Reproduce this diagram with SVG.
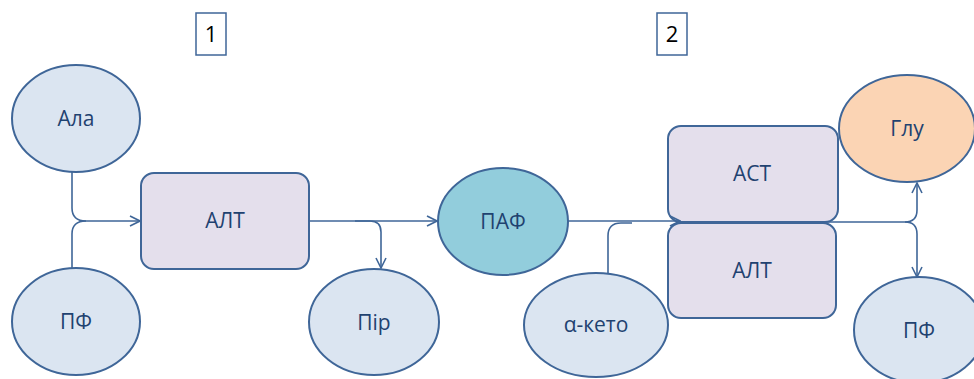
<svg xmlns="http://www.w3.org/2000/svg" width="974" height="379" viewBox="0 0 974 379">
<defs>
<marker id="arr" viewBox="0 0 12 12" refX="11" refY="6" markerWidth="12" markerHeight="12" markerUnits="userSpaceOnUse" orient="auto">
<path d="M1,1 L11,6 L1,11" fill="none" stroke="#3F6698" stroke-width="1.6"/>
</marker>
</defs>
<style>
.el{fill:#DBE5F1;stroke:#3F6698;stroke-width:2}
.bx{fill:#E4DFEC;stroke:#3F6698;stroke-width:2}
.t{font-family:"Open Sans","Liberation Sans",sans-serif;font-size:21px;fill:#1F4270;text-anchor:middle}
.n{font-family:"Open Sans","Liberation Sans",sans-serif;font-size:22px;fill:#000;text-anchor:middle}
.c{fill:none;stroke:#3F6698;stroke-width:1.6}
.lbl{fill:#fff;stroke:#3F6698;stroke-width:1.5}
</style>
<g id="label1"><rect class="lbl" x="196" y="13" width="30" height="42"/><text class="n" x="211" y="42">1</text></g>
<g id="label2"><rect class="lbl" x="657" y="13" width="30" height="42"/><text class="n" x="672" y="42">2</text></g>
<g id="ala"><ellipse class="el" cx="76" cy="118.5" rx="64" ry="53.5"/><text class="t" x="76" y="126">Ала</text></g>
<g id="pf1"><ellipse class="el" cx="76" cy="321.5" rx="64" ry="53.5"/><text class="t" x="76" y="329">ПФ</text></g>
<g id="alt1"><rect class="bx" x="141" y="173" width="168" height="96" rx="13"/><text class="t" x="225" y="228">АЛТ</text></g>
<g id="pir"><ellipse class="el" cx="374" cy="322" rx="65" ry="53"/><text class="t" x="374" y="330">Пір</text></g>
<g id="paf"><ellipse cx="503" cy="221.5" rx="65" ry="53.5" fill="#92CDDC" stroke="#3F6698" stroke-width="2"/><text class="t" x="503" y="229">ПАФ</text></g>
<g id="aketo"><ellipse class="el" cx="596" cy="325" rx="72" ry="52"/><text class="t" x="596" y="332">α-кето</text></g>
<g id="ast"><rect class="bx" x="668" y="126" width="170" height="96" rx="13"/><text class="t" x="752" y="181">АСТ</text></g>
<g id="alt2"><rect class="bx" x="668" y="223" width="168" height="95" rx="13"/><text class="t" x="752" y="278">АЛТ</text></g>
<g id="glu"><ellipse cx="907" cy="128.5" rx="68" ry="53.5" fill="#FBD4B4" stroke="#3F6698" stroke-width="2"/><text class="t" x="907" y="136">Глу</text></g>
<g id="pf2"><ellipse class="el" cx="919" cy="330" rx="65" ry="53"/><text class="t" x="919" y="338">ПФ</text></g>
<g id="connectors">
<path class="c" d="M72,172 V208 Q72,221 86,221 H140" marker-end="url(#arr)"/>
<path class="c" d="M72,268 V234 Q72,221 86,221"/>
<path class="c" d="M309,221 H437" marker-end="url(#arr)"/>
<path class="c" d="M355,221 H370 Q381,221 381,232 V268" marker-end="url(#arr)"/>
<path class="c" d="M568,221 H680" marker-end="url(#arr)"/>
<path class="c" d="M608,273 V236 Q608,223 621,223 H632"/>
<path class="c" d="M822,222 H905 Q917,222 917,210 V183" marker-end="url(#arr)"/>
<path class="c" d="M905,222 Q917,222 917,234 V277" marker-end="url(#arr)"/>
</g>
</svg>
